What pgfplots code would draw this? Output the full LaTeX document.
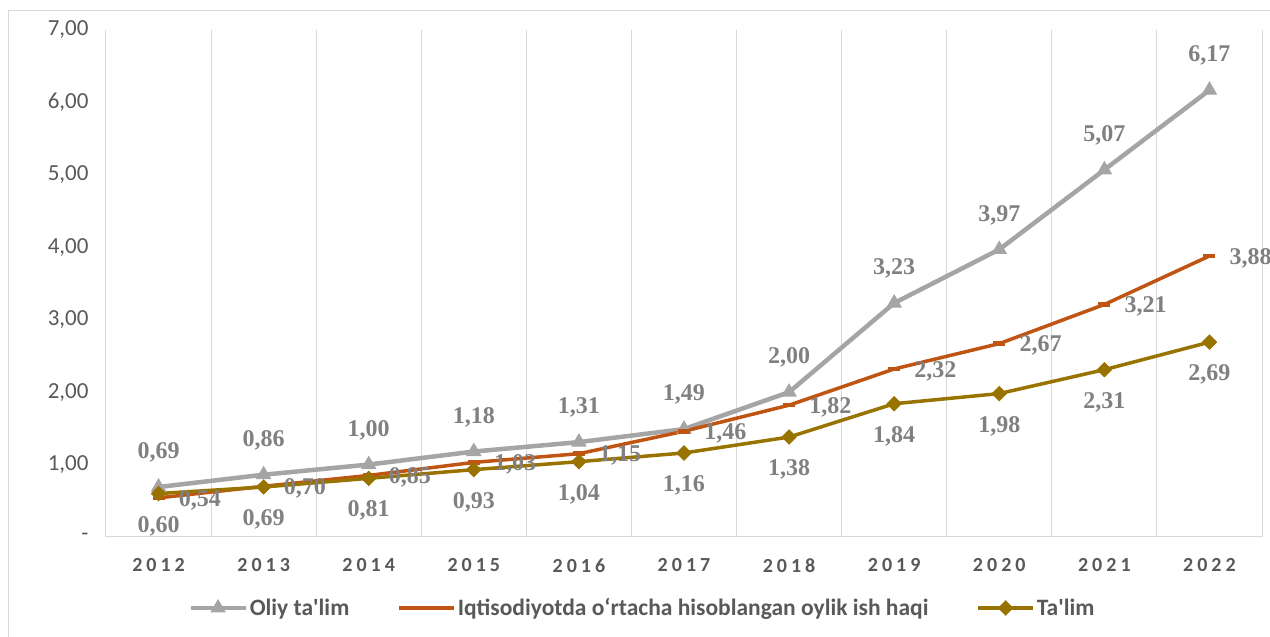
\documentclass[border=0pt]{standalone}
\usepackage{fontspec}
\setmainfont{Liberation Serif}
\newfontfamily\calib{Carlito}
\newfontfamily\calibls[LetterSpace=20]{Carlito}
\usepackage{pgfplots}
\pgfplotsset{compat=1.18}

\definecolor{cgray}{HTML}{A5A5A5}
\definecolor{cbrown}{HTML}{C05412}
\definecolor{cgold}{HTML}{997300}
\definecolor{clabel}{HTML}{808080}
\definecolor{cgrid}{HTML}{D9D9D9}
\definecolor{ctext}{HTML}{595959}

\begin{document}
\begin{tikzpicture}
\useasboundingbox (0pt,0pt) rectangle (1270pt,637pt);
\draw[cgrid, line width=1pt] (8pt,-5pt) -- (8pt,626pt) -- (1280pt,626pt);
\begin{axis}[
    at={(106pt,100pt)}, anchor=south west,
    scale only axis,
    width=1156pt, height=507pt,
    xmin=2011.5, xmax=2022.5,
    ymin=0, ymax=7,
    xtick={2012,2013,2014,2015,2016,2017,2018,2019,2020,2021,2022},
    xticklabels={2012,2013,2014,2015,2016,2017,2018,2019,2020,2021,2022},
    minor xtick={2011.5,2012.5,2013.5,2014.5,2015.5,2016.5,2017.5,2018.5,2019.5,2020.5,2021.5,2022.5},
    xminorgrids=true,
    minor grid style={cgrid, line width=1pt},
    ytick={0,1,2,3,4,5,6,7},
    yticklabels={-,{1,00},{2,00},{3,00},{4,00},{5,00},{6,00},{7,00}},
    extra y ticks={0},
    extra y tick labels={},
    extra y tick style={ymajorgrids=true, major grid style={cgrid, line width=1pt}},
    axis line style={draw=none},
    tick style={draw=none},
    yticklabel style={font=\calib\fontsize{23}{25}\selectfont, text=ctext, xshift=-14pt},
    xticklabel style={font=\calibls\bfseries\fontsize{20}{22}\selectfont, text=ctext, yshift=-18pt},
    nodes near coords,
    every node near coord/.append style={font=\bfseries\fontsize{24}{26}\selectfont, text=clabel, inner sep=0pt},
    /pgf/number format/.cd, use comma, fixed, fixed zerofill, precision=2, assume math mode=true,
    /pgfplots/.cd,
    legend columns=3,
    legend style={at={(0.4640,-0.140)}, anchor=center, draw=none, fill=none,
        font=\calib\bfseries\fontsize{23.5}{25}\selectfont, text=ctext,
        nodes={inner sep=2pt},
        /tikz/every even column/.append style={column sep=46pt}},
    legend image code/.code={\draw[mark repeat=2, mark phase=2, #1] plot coordinates {(0pt,0pt) (27.5pt,0pt) (55pt,0pt)};},
]
\addplot[cgray, line width=4.5pt, mark=triangle*, mark size=8pt, mark options={line width=1pt, fill=cgray},
    nodes near coords align={anchor=south}, every node near coord/.append style={yshift=24pt}]
coordinates {(2012,0.69) (2013,0.86) (2014,1.00) (2015,1.18) (2016,1.31) (2017,1.49) (2018,2.00) (2019,3.23) (2020,3.97) (2021,5.07) (2022,6.17)};
\addlegendentry{Oliy ta'lim}

\addplot[cbrown, line width=3.5pt, mark=-, mark size=6pt, mark options={line width=4.5pt},
    nodes near coords align={anchor=west}, every node near coord/.append style={xshift=18pt, yshift=-2pt}]
coordinates {(2012,0.54) (2013,0.70) (2014,0.85) (2015,1.03) (2016,1.15) (2017,1.46) (2018,1.82) (2019,2.32) (2020,2.67) (2021,3.21) (2022,3.88)};
\addlegendentry{Iqtisodiyotda o‘rtacha hisoblangan oylik ish haqi}

\addplot[cgold, line width=3.5pt, mark=square*, mark size=5pt, mark options={rotate=45, line width=1pt, fill=cgold},
    nodes near coords align={anchor=north}, every node near coord/.append style={yshift=-22pt}]
coordinates {(2012,0.60) (2013,0.69) (2014,0.81) (2015,0.93) (2016,1.04) (2017,1.16) (2018,1.38) (2019,1.84) (2020,1.98) (2021,2.31) (2022,2.69)};
\addlegendentry{Ta'lim}
\end{axis}
\end{tikzpicture}
\end{document}
